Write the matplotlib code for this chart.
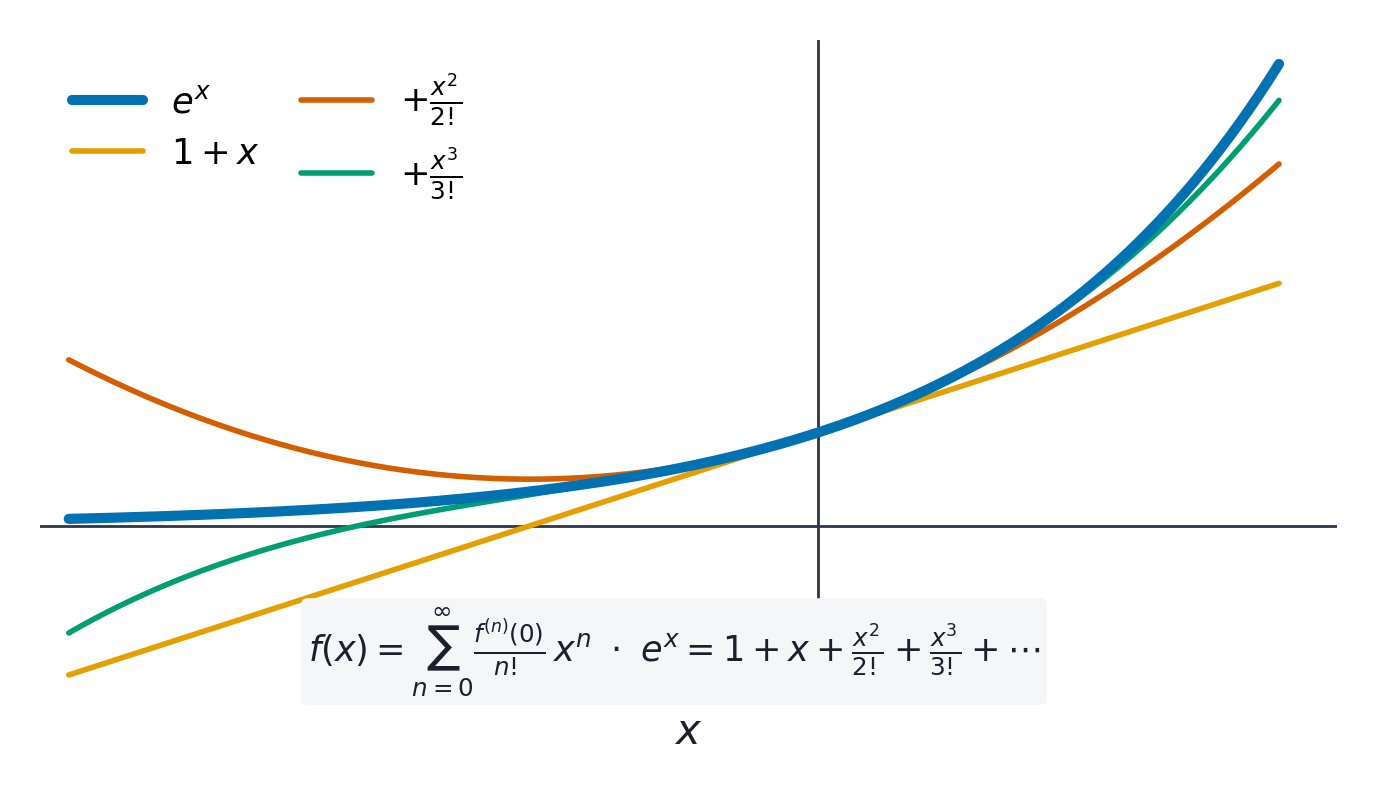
import numpy as np
import matplotlib
matplotlib.use("Agg")
import matplotlib.pyplot as plt

# x range of the curves and the axis window
x_start, x_end = -2.6, 1.6
x_lim = (-2.7, 1.8)
y_lim = (-1.90, 5.21)

labels = [r"$e^x$", r"$1 + x$", r"$+\frac{x^2}{2!}$", r"$+\frac{x^3}{3!}$"]
colors = ["#0072B2", "#E69F00", "#D55E00", "#009E73"]
ink = "#1a202c"
axis_col = "#2d3748"

formula = (r"$f(x) = \sum_{n=0}^{\infty}\frac{f^{(n)}(0)}{n!}\,x^n"
           r"\ \cdot\ e^x = 1 + x + \frac{x^2}{2!} + \frac{x^3}{3!} + \cdots$")

x = np.linspace(x_start, x_end, 400)
exact = np.exp(x)
order1 = 1 + x
order2 = order1 + x**2 / 2
order3 = order2 + x**3 / 6

dpi = 100
fig = plt.figure(figsize=(1377 / dpi, 785 / dpi), dpi=dpi)
ax = fig.add_axes([0.029, 0.1045, 0.9417, 0.8446])

# axes through the origin
ax.axhline(0, color=axis_col, lw=2, zorder=1)
ax.axvline(0, color=axis_col, lw=2, zorder=1)

ax.plot(x, exact, color=colors[0], lw=7.3, solid_capstyle="round", label=labels[0], zorder=5)
ax.plot(x, order1, color=colors[1], lw=4, solid_capstyle="round", label=labels[1], zorder=3)
ax.plot(x, order2, color=colors[2], lw=4, solid_capstyle="round", label=labels[2], zorder=3)
ax.plot(x, order3, color=colors[3], lw=4, solid_capstyle="round", label=labels[3], zorder=3)

ax.set_xlim(*x_lim)
ax.set_ylim(*y_lim)
for s in ax.spines.values():
    s.set_visible(False)
ax.set_xticks([])
ax.set_yticks([])

ax.set_xlabel(r"$x$", fontsize=30, color=ink)
ax.xaxis.set_label_coords(0.5, -0.012, transform=ax.transAxes)
ax.xaxis.label.set_va("top")

leg = ax.legend(loc="upper left", ncol=2, frameon=False, fontsize=25.5,
                columnspacing=1.15)

ax.text(-0.5, -1.35, formula, fontsize=25.3, color=ink, ha="center", va="center",
        zorder=10,
        bbox=dict(boxstyle="round,pad=0.2,rounding_size=0.2", fc="#f4f6f8", ec="none"))

fig.savefig("out.png", dpi=dpi)
